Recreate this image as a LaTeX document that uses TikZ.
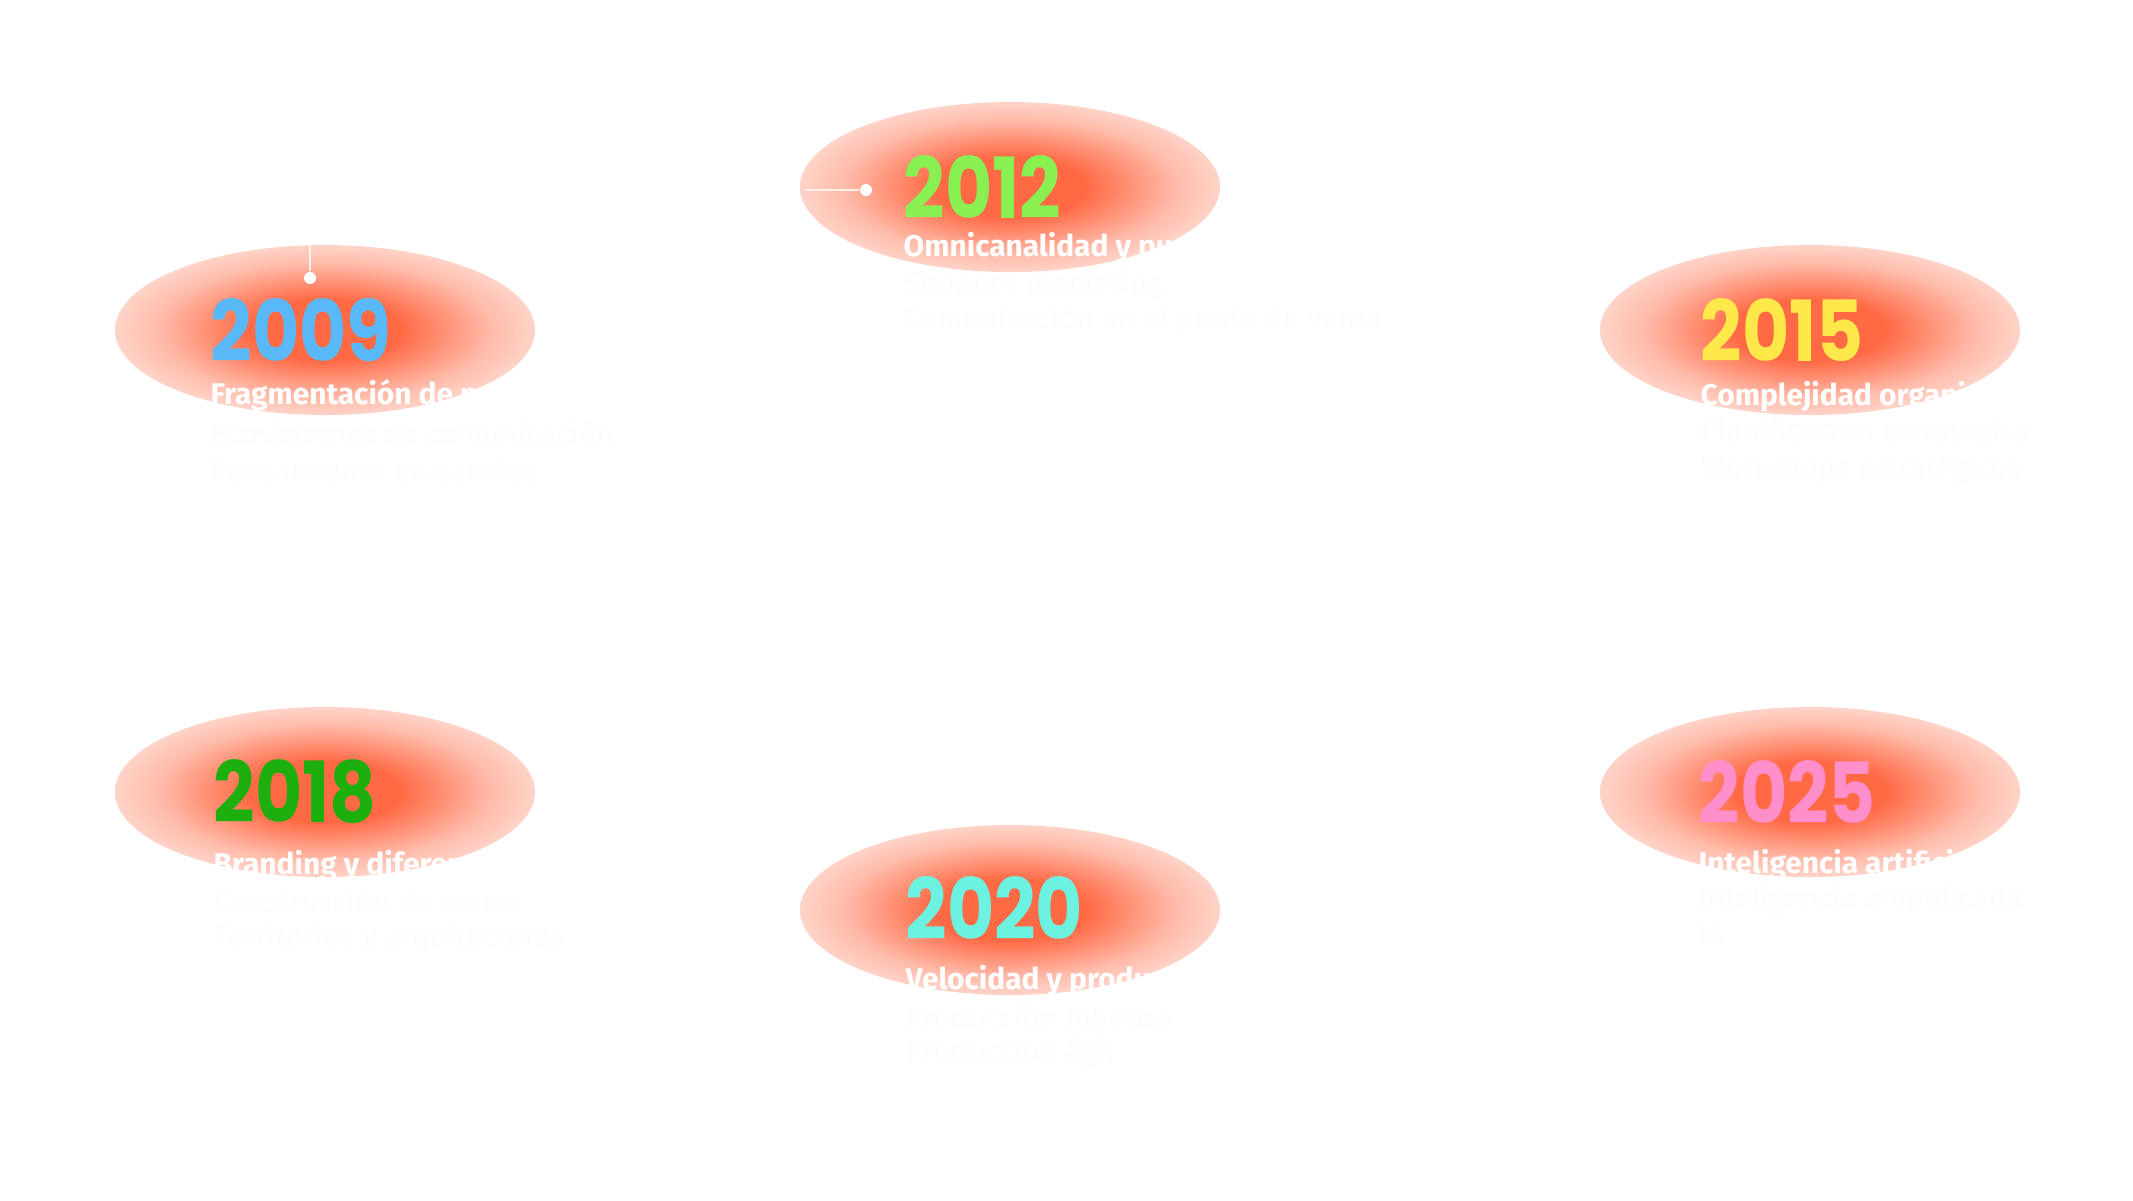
\documentclass[tikz,border=0pt]{standalone}
\usepackage{fontspec}
\setmainfont{Poppins}
\newfontfamily\subfont{Fira Sans}
\definecolor{glow}{HTML}{FF6A45}
\definecolor{cA}{HTML}{58B8F8}
\definecolor{cB}{HTML}{88F050}
\definecolor{cC}{HTML}{FFE84A}
\definecolor{cD}{HTML}{1DAF0E}
\definecolor{cE}{HTML}{6BF2E0}
\definecolor{cF}{HTML}{FF8FCB}
\pgfdeclareradialshading{glowsh}{\pgfpoint{0bp}{0bp}}{color(0bp)=(glow); color(9bp)=(glow); color(20bp)=(glow!45!white); color(32bp)=(glow!8!white); color(42bp)=(white); color(50bp)=(white)}
\begin{document}
\begin{tikzpicture}[x=1cm,y=1cm,
  year/.style={anchor=west,inner sep=0pt,xscale=0.86,font=\fontsize{24}{24}\selectfont\bfseries},
  sub/.style={anchor=west,inner sep=0pt,text=white,font=\subfont\fontsize{8.5}{10}\selectfont\bfseries},
  subl/.style={anchor=west,inner sep=0pt,text=white!98!glow,font=\subfont\fontsize{8.5}{10}\selectfont},
  dot/.style={circle,fill=white,inner sep=0pt,minimum size=0.12cm},
  link/.style={white!90!glow,line width=0.5pt}]
\fill[white] (0,0) rectangle (21.33,-12);
\useasboundingbox (0,0) rectangle (21.33,-12);
% glows
\foreach \x/\y in {3.25/-3.3, 10.1/-1.87, 18.1/-3.3, 3.25/-7.92, 10.1/-9.1, 18.1/-7.92}
  \shade[shading=glowsh] (\x,\y) ellipse (2.1 and 0.85);
% years
\node[year,text=cA] (y09) at (2.1,-3.3) {2009};
\node[year,text=cB] (y12) at (9.03,-1.87) {2012};
\node[year,text=cC] (y15) at (17.0,-3.3) {2015};
\node[year,text=cD] (y18) at (2.13,-7.92) {2018};
\node[year,text=cE] (y20) at (9.05,-9.08) {2020};
\node[year,text=cF] (y25) at (16.98,-7.92) {2025};
% subtitles
\node[sub] (s09) at (2.1,-3.95) {Fragmentación de medios};
\node[subl] at (2.1,-4.33) {Ecosistemas de comunicación};
\node[subl] at (2.1,-4.70) {Pensamiento en canales};
\node[sub] (s12) at (9.03,-2.48) {Omnicanalidad y punto de venta};
\node[subl] at (9.03,-2.85) {Shopper marketing};
\node[subl] at (9.03,-3.20) {Comunicación en el punto de venta};
\node[sub] (s15) at (17.0,-3.97) {Complejidad organizacional};
\node[subl] at (17.0,-4.33) {Planificación estratégica};
\node[subl] at (17.0,-4.70) {Workshops estratégicos};
\node[sub] (s18) at (2.13,-8.65) {Branding y diferenciación};
\node[subl] at (2.13,-9.00) {Construcción de marca};
\node[subl] at (2.13,-9.38) {Territorios y arquitecturas};
\node[sub] (s20) at (9.05,-9.80) {Velocidad y producción de contenido};
\node[subl] at (9.05,-10.17) {Producción Inhouse};
\node[subl] at (9.05,-10.53) {Producción ágil};
\node[sub] (s25) at (16.98,-8.65) {Inteligencia artificial};
\node[subl] at (16.98,-9.00) {Inteligencia amplificada};
\node[subl] at (16.98,-9.35) {IA};
% dots and links
\node[dot] (d09) at (3.1,-2.78) {};
\coordinate (e09) at (3.1,-2.45);
\draw[link] (e09) -- (d09);
\node[dot] (d12) at (8.66,-1.9) {};
\coordinate (e12) at (8.05,-1.9);
\draw[link] (e12) -- (d12);
\end{tikzpicture}
\end{document}
